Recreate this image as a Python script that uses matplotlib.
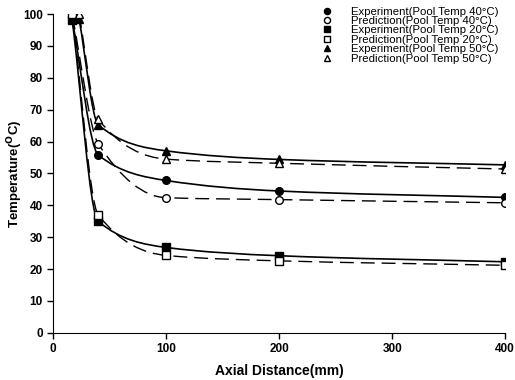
import numpy as np
import matplotlib
matplotlib.use("Agg")
import matplotlib.pyplot as plt
from matplotlib.path import Path
from matplotlib.patches import PathPatch

plt.rcParams["font.family"] = ["Liberation Sans", "DejaVu Sans"]

# Axial distance (mm) of each measurement point
x_40 = [17, 40, 100, 200, 400]
x_20 = [17, 40, 100, 200, 400]
x_50 = [23, 40, 100, 200, 400]

# Temperatures (C)
exp_40 = [98.0, 55.8, 47.8, 44.5, 42.5]
pred_40 = [99.5, 59.3, 42.4, 41.8, 40.8]
exp_20 = [98.0, 35.0, 26.8, 24.2, 22.3]
pred_20 = [100.0, 37.0, 24.3, 22.6, 21.2]
exp_50 = [98.5, 65.3, 57.1, 54.4, 52.7]
pred_50 = [100.0, 67.0, 54.5, 53.2, 51.4]

labels = [
    "Experiment(Pool Temp 40°C)",
    "Prediction(Pool Temp 40°C)",
    "Experiment(Pool Temp 20°C)",
    "Prediction(Pool Temp 20°C)",
    "Experiment(Pool Temp 50°C)",
    "Prediction(Pool Temp 50°C)",
]


def smooth_path(x, y):
    """Monotone cubic (Fritsch-Carlson) curve as a bezier Path."""
    x = np.asarray(x, float)
    y = np.asarray(y, float)
    h = np.diff(x)
    d = np.diff(y) / h
    m = np.zeros_like(y)
    m[0], m[-1] = d[0], d[-1]
    for i in range(1, len(x) - 1):
        if d[i - 1] * d[i] > 0:
            w1 = 2 * h[i] + h[i - 1]
            w2 = h[i] + 2 * h[i - 1]
            m[i] = (w1 + w2) / (w1 / d[i - 1] + w2 / d[i])
    verts = [(x[0], y[0])]
    codes = [Path.MOVETO]
    for i in range(len(x) - 1):
        verts += [(x[i] + h[i] / 3, y[i] + m[i] * h[i] / 3),
                  (x[i + 1] - h[i] / 3, y[i + 1] - m[i + 1] * h[i] / 3),
                  (x[i + 1], y[i + 1])]
        codes += [Path.CURVE4] * 3
    return Path(verts, codes)


fig = plt.figure(figsize=(5.15, 3.8), dpi=100)
ax = fig.add_axes([0.103, 0.124, 0.878, 0.839])

series = [
    (x_40, exp_40, "o", "black", "-"),
    (x_40, pred_40, "o", "white", "--"),
    (x_20, exp_20, "s", "black", "-"),
    (x_20, pred_20, "s", "white", "--"),
    (x_50, exp_50, "^", "black", "-"),
    (x_50, pred_50, "^", "white", "--"),
]

for (xs, ys, mk, fc, ls), lab in zip(series, labels):
    patch = PathPatch(smooth_path(xs, ys), fill=False, edgecolor="black",
                      lw=1.2 if ls == "-" else 1.0, zorder=2)
    if ls == "--":
        patch.set_linestyle((0, (10, 5)))
    ax.add_patch(patch)
    ax.plot(xs, ys, ls="none", marker=mk, ms=5.5, mfc=fc, mec="black",
            mew=1.0, label=lab, zorder=3)

ax.set_xlim(0, 400)
ax.set_ylim(0, 100)
ax.set_xticks(range(0, 401, 100))
ax.set_yticks(range(0, 101, 10))
for s in ["top", "right"]:
    ax.spines[s].set_visible(False)
ax.tick_params(direction="out", length=4, width=1, labelsize=8.5)
for t in ax.get_xticklabels() + ax.get_yticklabels():
    t.set_fontweight("bold")

ax.set_xlabel("Axial Distance(mm)", fontsize=10, fontweight="bold", labelpad=6)
ax.set_ylabel("Temperature($\\mathbf{^{O}}$C)", fontsize=9.5, fontweight="bold")
ax.yaxis.set_label_coords(-0.062, 0.5)

ax.legend(loc="upper right", bbox_to_anchor=(1.0, 1.045), frameon=False,
          fontsize=8.2, labelspacing=-0.05, handletextpad=1.6,
          handlelength=1.0, borderaxespad=0.2, markerscale=0.8)

fig.savefig("out.png", dpi=100)
